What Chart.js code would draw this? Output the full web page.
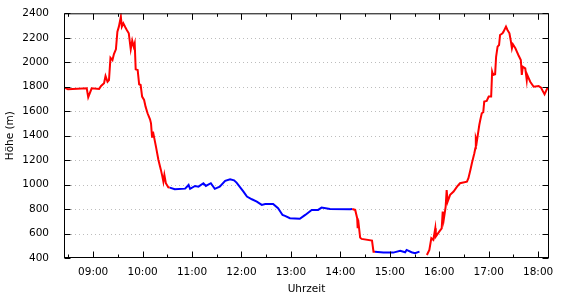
<!DOCTYPE html>
<html>
<head>
<meta charset="utf-8">
<script src="https://cdn.jsdelivr.net/npm/chart.js@4.4.1/dist/chart.umd.min.js"></script>
<style>
  body { margin: 0; background: #fff; }
  #wrap { width: 570px; height: 300px; }
</style>
</head>
<body>
<div id="wrap"><canvas id="chart" width="570" height="300"></canvas></div>
<script>
// time in decimal hours, altitude in metres
var red1Time = [8.41, 8.49, 8.87, 8.90, 8.97, 9.12, 9.16, 9.22, 9.25, 9.29, 9.32, 9.35, 9.39, 9.42, 9.46, 9.49,
    9.52, 9.56, 9.58, 9.61, 9.65, 9.68, 9.72, 9.76, 9.79, 9.82, 9.84, 9.86, 9.90, 9.93, 9.96, 9.99,
    10.03, 10.06, 10.10, 10.15, 10.17, 10.19, 10.21, 10.27, 10.32, 10.37, 10.40, 10.42, 10.44, 10.47, 10.52, 10.55];
var red1Alt = [1795, 1779, 1787, 1714, 1787, 1782, 1806, 1828, 1888, 1841, 1855, 2037, 2018, 2067, 2106, 2250,
    2291, 2372, 2291, 2318, 2286, 2264, 2237, 2106, 2176, 2127, 2155, 1942, 1937, 1820, 1814, 1719,
    1692, 1637, 1583, 1534, 1501, 1392, 1433, 1310, 1201, 1120, 1065, 1024, 1079, 1011, 978, 975];

var blue1Time = [10.55, 10.65, 10.86, 10.93, 10.96, 11.06, 11.13, 11.23, 11.28, 11.38, 11.46, 11.56, 11.67, 11.77,
    11.85, 11.90, 12.04, 12.11, 12.21, 12.31, 12.41, 12.48, 12.64, 12.74, 12.83, 12.88, 12.98, 13.18,
    13.29, 13.42, 13.55, 13.62, 13.79, 14.20, 14.24];
var blue1Alt = [975, 962, 967, 997, 965, 989, 983, 1011, 989, 1011, 965, 983, 1030, 1044,
    1035, 1016, 942, 902, 880, 861, 834, 842, 842, 807, 752, 744, 725, 720,
    752, 793, 793, 812, 801, 799, 800];

var red2Time = [14.24, 14.30, 14.34, 14.35, 14.36, 14.40, 14.43, 14.64, 14.67, 14.70];
var red2Alt = [800, 793, 725, 643, 711, 567, 556, 542, 452, 452];

var blue2Time = [14.70, 14.87, 15.07, 15.21, 15.31, 15.34, 15.44, 15.51, 15.60];
var blue2Alt = [452, 444, 444, 458, 447, 466, 447, 439, 452];

var red3Time = [15.75, 15.80, 15.84, 15.88, 15.92, 15.93, 16.00, 16.05, 16.07, 16.09, 16.13, 16.15, 16.17,
    16.22, 16.29, 16.36, 16.42, 16.56, 16.59, 16.63, 16.66, 16.71, 16.73, 16.74, 16.76, 16.81,
    16.83, 16.86, 16.89, 16.91, 16.96, 17.00, 17.05, 17.07, 17.09, 17.13, 17.15, 17.18, 17.21,
    17.23, 17.28, 17.30, 17.35, 17.38, 17.42, 17.45, 17.47, 17.49, 17.54, 17.57, 17.60, 17.65,
    17.67, 17.69, 17.74, 17.77, 17.78, 17.84, 17.91, 18.01, 18.06, 18.10, 18.13, 18.18, 18.22];
var red3Alt = [425, 466, 562, 548, 643, 575, 616, 643, 779, 711, 820, 956, 861,
    916, 943, 983, 1011, 1024, 1052, 1120, 1175, 1256, 1297, 1379, 1351, 1487,
    1528, 1583, 1591, 1678, 1684, 1719, 1719, 1923, 1896, 1902, 2045, 2127, 2141,
    2223, 2237, 2250, 2291, 2264, 2237, 2168, 2114, 2147, 2114, 2086, 2059, 2018,
    1896, 1964, 1950, 1855, 1896, 1841, 1800, 1806, 1792, 1760, 1738, 1782, 1787];

var hourTicks = [9, 10, 11, 12, 13, 14, 15, 16, 17, 18];
var altTicks = [400, 600, 800, 1000, 1200, 1400, 1600, 1800, 2000, 2200, 2400];

function toPoints(segments) {
    var pts = [];
    segments.forEach(function (seg, i) {
        if (i > 0) pts.push({x: seg[0][0], y: null});
        seg[0].forEach(function (t, j) { pts.push({x: t, y: seg[1][j]}); });
    });
    return pts;
}

var font = {family: 'DejaVu Sans', size: 10.5};

// gnuplot-like frame, ticks inside on all four sides, dotted grid
var framePlugin = {
    id: 'frame',
    beforeDatasetsDraw: function (chart) {
        var ctx = chart.ctx, a = chart.chartArea, y = chart.scales.y;
        ctx.save();
        ctx.strokeStyle = '#bdbdbd';
        ctx.lineWidth = 1;
        ctx.setLineDash([1, 3]);
        altTicks.forEach(function (v) {
            if (v <= altTicks[0] || v >= altTicks[altTicks.length - 1]) return;
            var py = Math.round(y.getPixelForValue(v)) + 0.5;
            ctx.beginPath();
            ctx.moveTo(a.left + 7, py);
            ctx.lineTo(a.right - 7, py);
            ctx.stroke();
        });
        ctx.restore();
    },
    afterDatasetsDraw: function (chart) {
        var ctx = chart.ctx, a = chart.chartArea, x = chart.scales.x, y = chart.scales.y;
        ctx.save();
        ctx.strokeStyle = '#000';
        ctx.lineWidth = 1;
        var l = a.left + 0.5, r = a.right - 0.5, t = a.top + 0.5, b = a.bottom - 0.5;
        ctx.beginPath();
        altTicks.forEach(function (v) {
            var py = Math.round(y.getPixelForValue(v)) + 0.5;
            ctx.moveTo(l, py); ctx.lineTo(l + 6, py);
            ctx.moveTo(r, py); ctx.lineTo(r - 6, py);
        });
        for (var h = Math.ceil(x.min * 2) / 2; h <= x.max; h += 0.5) {
            var px = Math.round(x.getPixelForValue(h)) + 0.5;
            var len = (h % 1 === 0) ? 6 : 3;
            ctx.moveTo(px, b); ctx.lineTo(px, b - len);
            ctx.moveTo(px, t); ctx.lineTo(px, t + len);
        }
        ctx.stroke();
        ctx.strokeRect(l, t, r - l, b - t);
        ctx.restore();
    }
};

new Chart(document.getElementById('chart'), {
    type: 'line',
    data: {
        datasets: [{
            data: toPoints([[red1Time, red1Alt], [red2Time, red2Alt], [red3Time, red3Alt]]),
            borderColor: '#ff0000',
            borderWidth: 2,
            pointRadius: 0,
            spanGaps: false
        }, {
            data: toPoints([[blue1Time, blue1Alt], [blue2Time, blue2Alt]]),
            borderColor: '#0000ff',
            borderWidth: 2,
            pointRadius: 0,
            spanGaps: false
        }]
    },
    options: {
        responsive: false,
        animation: false,
        layout: {padding: {top: 13, right: 21, left: 0, bottom: 0}},
        plugins: {legend: {display: false}, tooltip: {enabled: false}},
        scales: {
            x: {
                type: 'linear',
                min: red1Time[0],
                max: red3Time[red3Time.length - 1],
                grid: {display: false},
                border: {display: false},
                afterBuildTicks: function (scale) {
                    scale.ticks = hourTicks.map(function (h) { return {value: h}; });
                },
                afterFit: function (scale) { scale.height = 42; },
                ticks: {
                    padding: 0,
                    maxRotation: 0,
                    color: '#000',
                    font: font,
                    callback: function (v) { return (v < 10 ? '0' : '') + v + ':00'; }
                },
                title: {display: true, text: 'Uhrzeit', color: '#000', font: font, padding: {top: 0, bottom: 4}}
            },
            y: {
                min: altTicks[0],
                max: altTicks[altTicks.length - 1],
                grid: {display: false},
                border: {display: false},
                afterBuildTicks: function (scale) {
                    scale.ticks = altTicks.map(function (v) { return {value: v}; });
                },
                afterFit: function (scale) { scale.width = 64; },
                ticks: {padding: 7, color: '#000', font: font, callback: function (v) { return String(v); }},
                title: {display: true, text: 'Höhe (m)', color: '#000', font: font, padding: {top: 4, bottom: 0}}
            }
        }
    },
    plugins: [framePlugin]
});
</script>
</body>
</html>
